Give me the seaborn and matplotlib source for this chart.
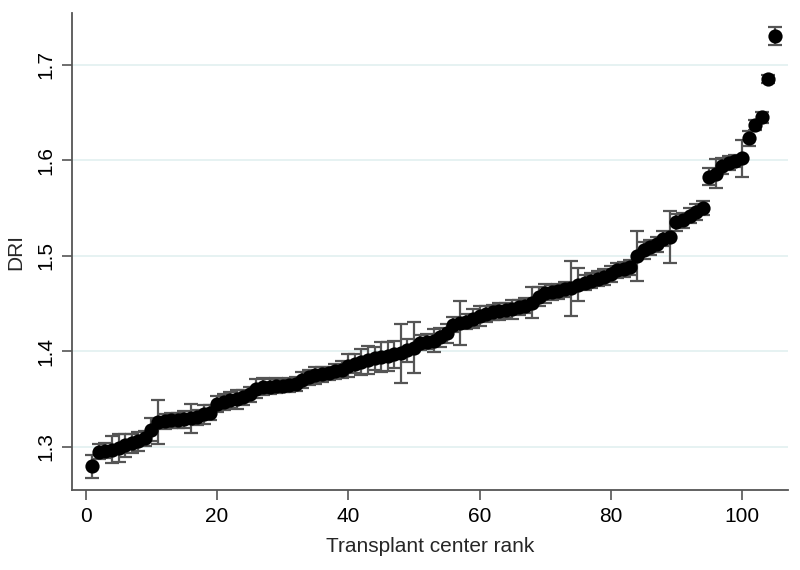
import numpy as np
import pandas as pd
import matplotlib
matplotlib.use("Agg")
import matplotlib.pyplot as plt
import seaborn as sns

rank = list(range(1, 106))
dri = [1.280, 1.295, 1.296, 1.297, 1.299, 1.302, 1.304, 1.306, 1.309, 1.318,
       1.326, 1.327, 1.328, 1.328, 1.329, 1.330, 1.331, 1.334, 1.336, 1.345,
       1.347, 1.349, 1.350, 1.352, 1.355, 1.361, 1.363, 1.363, 1.364, 1.364,
       1.365, 1.366, 1.370, 1.373, 1.375, 1.376, 1.377, 1.379, 1.381, 1.385,
       1.387, 1.389, 1.391, 1.393, 1.394, 1.395, 1.397, 1.398, 1.401, 1.404,
       1.409, 1.410, 1.411, 1.415, 1.419, 1.428, 1.430, 1.431, 1.434, 1.437,
       1.439, 1.441, 1.442, 1.443, 1.444, 1.446, 1.448, 1.451, 1.457, 1.461,
       1.462, 1.463, 1.465, 1.466, 1.470, 1.472, 1.474, 1.476, 1.478, 1.481,
       1.485, 1.486, 1.488, 1.500, 1.506, 1.509, 1.512, 1.518, 1.520, 1.535,
       1.537, 1.542, 1.546, 1.550, 1.583, 1.586, 1.594, 1.597, 1.599, 1.602,
       1.623, 1.637, 1.645, 1.685, 1.730]
err = [0.012, 0.008, 0.008, 0.014, 0.015, 0.012, 0.010, 0.010, 0.008, 0.012,
       0.023, 0.008, 0.008, 0.008, 0.009, 0.015, 0.008, 0.010, 0.008, 0.008,
       0.008, 0.008, 0.010, 0.008, 0.008, 0.010, 0.009, 0.008, 0.008, 0.007,
       0.007, 0.007, 0.008, 0.008, 0.009, 0.008, 0.007, 0.008, 0.009, 0.012,
       0.010, 0.014, 0.015, 0.012, 0.016, 0.015, 0.014, 0.031, 0.012, 0.027,
       0.008, 0.008, 0.012, 0.010, 0.010, 0.008, 0.023, 0.008, 0.010, 0.010,
       0.008, 0.008, 0.009, 0.008, 0.010, 0.008, 0.008, 0.016, 0.010, 0.010,
       0.008, 0.008, 0.008, 0.029, 0.017, 0.008, 0.008, 0.008, 0.008, 0.008,
       0.008, 0.008, 0.008, 0.026, 0.009, 0.008, 0.008, 0.008, 0.027, 0.009,
       0.008, 0.008, 0.008, 0.007, 0.009, 0.015, 0.008, 0.007, 0.006, 0.019,
       0.008, 0.005, 0.006, 0.004, 0.009]
x_ticks = [0, 20, 40, 60, 80, 100]
y_ticks = [1.3, 1.4, 1.5, 1.6, 1.7]

df = pd.DataFrame({"rank": rank, "dri": dri, "err": err})

sns.set_style("white")
plt.rcParams['font.family'] = ['Liberation Sans', 'DejaVu Sans']

fig = plt.figure(figsize=(8, 5.7), dpi=100)
ax = fig.add_axes([0.09, 0.1404, 0.895, 0.8366])

for yt in y_ticks:
    ax.axhline(yt, color="#e2f0f0", lw=1.2, zorder=0)

ax.errorbar(df["rank"], df["dri"], yerr=df["err"], fmt="none",
            ecolor="#555555", elinewidth=1.6, capsize=5, capthick=1.6, zorder=2)
sns.scatterplot(data=df, x="rank", y="dri", ax=ax, color="black",
                s=105, edgecolor="black", linewidth=0, zorder=3, legend=False)

ax.set_xlim(-2.1, 107.0)
ax.set_ylim(1.255, 1.754)
ax.set_xticks(x_ticks)
ax.set_yticks(y_ticks)
ax.set_xticklabels([str(t) for t in x_ticks], fontsize=15)
ax.set_yticklabels([f"{t:.1f}" for t in y_ticks], fontsize=15, rotation=90, va="center")
ax.set_xlabel("Transplant center rank", fontsize=15, labelpad=8)
ax.set_ylabel("DRI", fontsize=15, labelpad=8)

for s in ["top", "right"]:
    ax.spines[s].set_visible(False)
for s in ["left", "bottom"]:
    ax.spines[s].set_color("#555555")
    ax.spines[s].set_linewidth(1.3)
ax.tick_params(axis="both", which="both", direction="out", length=7, width=1.2,
               pad=5, color="#555555", left=True, bottom=True, labelcolor="black")

fig.savefig("out.png", dpi=100)
